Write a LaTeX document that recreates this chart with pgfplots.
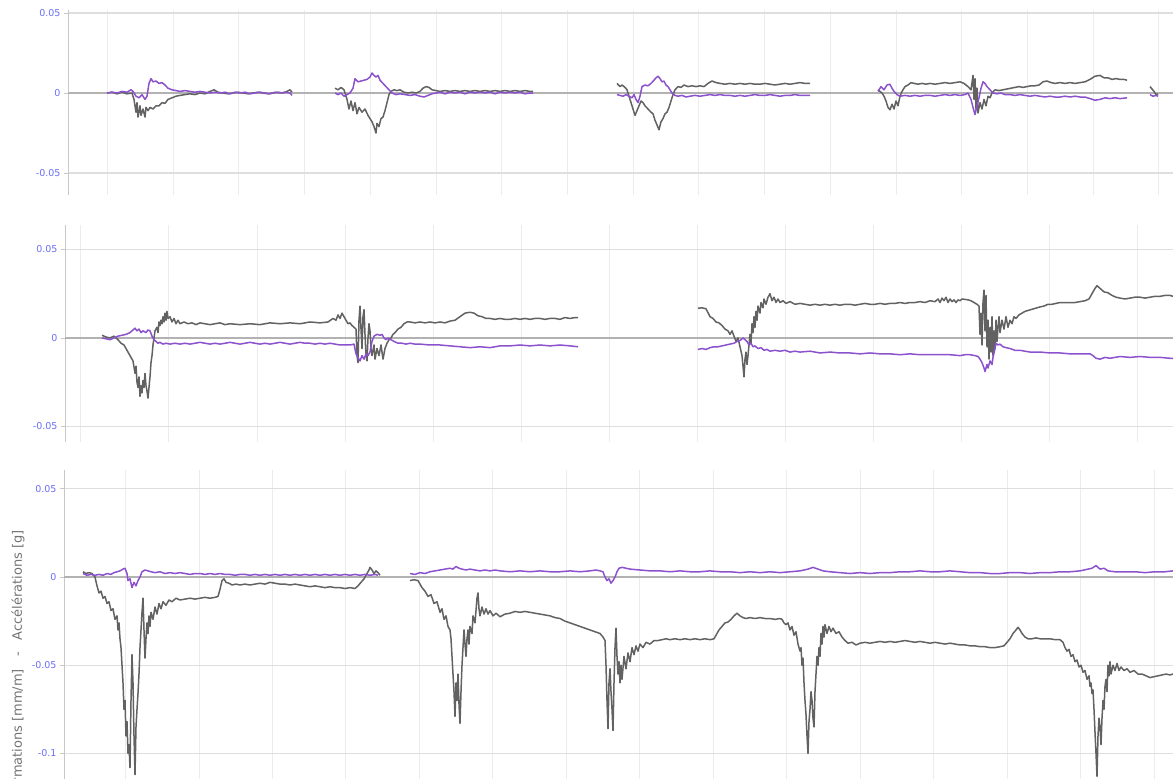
\documentclass[border=0pt]{standalone}
\usepackage{pgfplots}
\pgfplotsset{compat=1.18}
\usepackage{fontspec}
\setmainfont{DejaVu Sans}
\definecolor{tickblue}{RGB}{105,110,245}
\definecolor{sgray}{RGB}{98,98,98}
\definecolor{spurple}{RGB}{140,82,205}
\definecolor{zline}{RGB}{178,178,178}
\definecolor{hgrid}{RGB}{222,222,222}
\definecolor{vgrid}{RGB}{236,236,236}
\definecolor{axline}{RGB}{200,200,200}
\definecolor{ylabgray}{RGB}{115,115,115}
\pgfplotsset{
 panel/.style={
  scale only axis,
  axis lines*=left,
  x axis line style={draw=none},
  y axis line style={draw=axline, line width=1pt},
  xtick style={draw=none},
  xticklabels={},
  ytick style={draw=axline, line width=0.8pt},
  tick align=outside,
  major tick length=4pt,
  scaled y ticks=false,
  scaled x ticks=false,
  grid=major,
  x grid style={vgrid, line width=0.8pt},
  y grid style={hgrid, line width=1.2pt},
  yticklabel style={font=\fontsize{9.5}{10}\selectfont, text=tickblue},
  xmax=1173,
  clip=true,
  every axis plot/.append style={line width=1.5pt, line join=round},
 },
}
\begin{document}
\begin{tikzpicture}
\useasboundingbox (0,0) rectangle (1173pt,779pt);
% ---------------- Panel 1 ----------------
\begin{axis}[panel, at={(68pt,584pt)}, anchor=south west, width=1105pt, height=185pt,
  xmin=68, ymin=-0.06375, ymax=0.0519,
  xtick={107,173,238,304,370,436,501,567,633,698,764,830,896,961,1027,1093,1158},
  ytick={-0.05,0,0.05}, yticklabels={-0.05,0,0.05}]
\addplot[zline, line width=1.4pt, forget plot] coordinates {(60,0) (1180,0)};
% gray A
\addplot[sgray] table[row sep=\\]{x y\\
107 0\\ 112 0.0005\\ 117 -0.0005\\ 122 0.0005\\ 127 -0.0005\\ 132 0\\ 134 -0.004\\ 136 -0.012\\ 137 -0.006\\ 138 -0.015\\ 140 -0.008\\ 141 -0.014\\ 143 -0.010\\ 145 -0.015\\ 146 -0.009\\ 148 -0.011\\ 150 -0.009\\ 153 -0.010\\ 156 -0.008\\ 159 -0.008\\ 162 -0.006\\ 165 -0.0065\\ 168 -0.004\\ 172 -0.003\\ 176 -0.002\\ 180 -0.0015\\ 185 -0.001\\ 190 -0.0005\\ 195 -0.001\\ 200 0\\ 205 -0.0005\\ 210 0.001\\ 214 0.002\\ 218 0.0005\\ 223 0\\ 228 -0.0005\\ 233 0\\ 238 0.0005\\ 243 0\\ 248 -0.0005\\ 253 0\\ 258 0.0005\\ 263 0\\ 268 -0.0005\\ 273 0\\ 278 0.0005\\ 283 0\\ 287 0.001\\ 290 0.002\\ 292 0.0005\\
};
\addplot[spurple] table[row sep=\\]{x y\\
107 0\\ 112 0.0005\\ 117 0\\ 122 0.001\\ 127 0.0005\\ 131 0.002\\ 133 0.001\\ 136 -0.002\\ 139 -0.003\\ 142 -0.001\\ 145 -0.004\\ 147 -0.002\\ 149 0.006\\ 151 0.009\\ 153 0.007\\ 156 0.0075\\ 159 0.006\\ 162 0.0065\\ 165 0.005\\ 168 0.003\\ 172 0.002\\ 176 0.0015\\ 180 0.001\\ 185 0.0015\\ 190 0.001\\ 195 0.0005\\ 200 0.001\\ 205 0.0005\\ 210 0\\ 215 0.0005\\ 220 0\\ 225 0.0005\\ 230 -0.0005\\ 235 0.0005\\ 240 0\\ 245 0.0005\\ 250 -0.0005\\ 255 0\\ 260 0.0005\\ 265 0\\ 270 -0.0005\\ 275 0.0005\\ 280 0\\ 285 0.0005\\ 290 0\\ 292 -0.0015\\
};
% gray B
\addplot[sgray] table[row sep=\\]{x y\\
335 0.003\\ 338 0.002\\ 341 0.0035\\ 344 0.002\\ 347 -0.004\\ 349 -0.010\\ 351 -0.005\\ 353 -0.011\\ 355 -0.006\\ 357 -0.013\\ 359 -0.009\\ 362 -0.012\\ 365 -0.010\\ 368 -0.014\\ 370 -0.016\\ 372 -0.018\\ 374 -0.021\\ 376 -0.025\\ 377 -0.019\\ 379 -0.021\\ 381 -0.016\\ 383 -0.015\\ 385 -0.011\\ 387 -0.006\\ 389 -0.001\\ 391 0.001\\ 394 0.002\\ 397 0.0015\\ 400 0.002\\ 404 0.0005\\ 408 0\\ 412 0.0005\\ 416 0\\ 420 0.001\\ 423 0.003\\ 426 0.004\\ 429 0.0035\\ 432 0.002\\ 436 0.0015\\ 440 0.001\\ 445 0.0015\\ 450 0.001\\ 455 0.0015\\ 460 0.001\\ 465 0.0015\\ 470 0.001\\ 475 0.0015\\ 480 0.001\\ 485 0.0015\\ 490 0.001\\ 495 0.0015\\ 500 0.001\\ 505 0.0015\\ 510 0.001\\ 515 0.0015\\ 520 0.001\\ 525 0.0015\\ 530 0.001\\ 533 0.001\\
};
\addplot[spurple] table[row sep=\\]{x y\\
335 0\\ 338 -0.001\\ 341 0\\ 344 -0.002\\ 347 -0.001\\ 350 0\\ 353 0.003\\ 355 0.009\\ 358 0.007\\ 361 0.0075\\ 364 0.008\\ 367 0.0085\\ 370 0.010\\ 372 0.0125\\ 374 0.011\\ 376 0.010\\ 378 0.011\\ 380 0.008\\ 383 0.006\\ 386 0.004\\ 389 0.002\\ 392 0\\ 396 -0.001\\ 400 -0.0005\\ 405 -0.001\\ 410 -0.0015\\ 415 -0.001\\ 420 -0.002\\ 424 -0.0025\\ 428 -0.0015\\ 432 -0.0005\\ 436 0\\ 440 0.0005\\ 445 -0.0005\\ 450 0.0005\\ 455 0\\ 460 0.0005\\ 465 -0.0005\\ 470 0.0005\\ 475 0\\ 480 0.0005\\ 485 0\\ 490 0.0005\\ 495 -0.0005\\ 500 0.0005\\ 505 0\\ 510 0.0005\\ 515 0\\ 520 0.0005\\ 525 -0.0005\\ 530 0\\ 533 0\\
};
% gray C
\addplot[sgray] table[row sep=\\]{x y\\
617 0.006\\ 620 0.004\\ 622 0.005\\ 625 0.0035\\ 627 0.002\\ 629 -0.002\\ 631 -0.006\\ 633 -0.010\\ 635 -0.014\\ 637 -0.011\\ 639 -0.008\\ 641 -0.005\\ 643 -0.006\\ 645 -0.008\\ 648 -0.010\\ 651 -0.012\\ 653 -0.013\\ 655 -0.017\\ 657 -0.020\\ 659 -0.023\\ 661 -0.018\\ 663 -0.016\\ 665 -0.013\\ 667 -0.012\\ 669 -0.009\\ 671 -0.005\\ 673 -0.001\\ 675 0.002\\ 678 0.004\\ 681 0.0035\\ 684 0.005\\ 688 0.004\\ 692 0.0045\\ 696 0.004\\ 700 0.0045\\ 704 0.004\\ 708 0.006\\ 712 0.0075\\ 716 0.0065\\ 720 0.006\\ 725 0.0055\\ 730 0.006\\ 735 0.0055\\ 740 0.006\\ 745 0.0055\\ 750 0.006\\ 755 0.0055\\ 760 0.0055\\ 765 0.006\\ 770 0.0055\\ 775 0.005\\ 780 0.0055\\ 785 0.006\\ 790 0.0055\\ 795 0.006\\ 800 0.0065\\ 805 0.006\\ 810 0.006\\
};
\addplot[spurple] table[row sep=\\]{x y\\
617 -0.001\\ 620 -0.0015\\ 623 -0.002\\ 626 -0.001\\ 629 -0.002\\ 632 -0.003\\ 634 -0.001\\ 636 -0.004\\ 638 -0.006\\ 640 -0.002\\ 642 0.004\\ 645 0.005\\ 648 0.0045\\ 651 0.006\\ 654 0.008\\ 656 0.0095\\ 658 0.0105\\ 660 0.009\\ 662 0.007\\ 664 0.0075\\ 666 0.005\\ 668 0.004\\ 670 0.002\\ 672 0\\ 675 -0.0015\\ 678 -0.002\\ 682 -0.0015\\ 686 -0.0025\\ 690 -0.002\\ 695 -0.0015\\ 700 -0.002\\ 705 -0.0015\\ 710 -0.001\\ 715 -0.0015\\ 720 -0.001\\ 725 -0.0015\\ 730 -0.0015\\ 735 -0.002\\ 740 -0.0015\\ 745 -0.002\\ 750 -0.0015\\ 755 -0.001\\ 760 -0.0015\\ 765 -0.0015\\ 770 -0.001\\ 775 -0.0015\\ 780 -0.002\\ 785 -0.0015\\ 790 -0.0015\\ 795 -0.001\\ 800 -0.0015\\ 805 -0.0015\\ 810 -0.0015\\
};
% gray D
\addplot[sgray] table[row sep=\\]{x y\\
878 0.002\\ 880 0.001\\ 882 0\\ 884 -0.002\\ 886 -0.005\\ 888 -0.009\\ 890 -0.0105\\ 892 -0.007\\ 894 -0.010\\ 896 -0.005\\ 898 -0.008\\ 900 -0.002\\ 902 0.001\\ 905 0.004\\ 908 0.005\\ 911 0.0065\\ 914 0.006\\ 918 0.0055\\ 922 0.006\\ 926 0.0055\\ 930 0.006\\ 935 0.0055\\ 940 0.006\\ 945 0.0065\\ 950 0.006\\ 955 0.0065\\ 960 0.007\\ 964 0.006\\ 968 0.004\\ 971 0.002\\ 973 0.011\\ 974 -0.004\\ 975 0.009\\ 976 -0.010\\ 977 0.003\\ 978 -0.0125\\ 980 -0.006\\ 982 -0.010\\ 984 -0.004\\ 986 -0.008\\ 988 -0.002\\ 990 -0.003\\ 992 0\\ 995 0.002\\ 999 0.0015\\ 1003 0.002\\ 1007 0.0025\\ 1011 0.003\\ 1015 0.0035\\ 1019 0.004\\ 1023 0.0035\\ 1027 0.004\\ 1031 0.0045\\ 1035 0.0045\\ 1039 0.005\\ 1043 0.007\\ 1047 0.0075\\ 1051 0.0065\\ 1055 0.006\\ 1060 0.0065\\ 1065 0.006\\ 1070 0.0065\\ 1075 0.006\\ 1080 0.0065\\ 1085 0.007\\ 1090 0.0085\\ 1095 0.0105\\ 1100 0.011\\ 1104 0.0095\\ 1108 0.0095\\ 1112 0.0085\\ 1116 0.009\\ 1120 0.0085\\ 1124 0.0085\\ 1127 0.008\\
};
\addplot[spurple] table[row sep=\\]{x y\\
878 0.001\\ 881 0.004\\ 884 0.002\\ 887 0.005\\ 890 0.0055\\ 892 0.003\\ 894 0.001\\ 897 -0.001\\ 900 -0.002\\ 905 -0.0015\\ 910 -0.002\\ 915 -0.0015\\ 920 -0.002\\ 925 -0.0015\\ 930 -0.0015\\ 935 -0.002\\ 940 -0.0015\\ 945 -0.001\\ 950 -0.0015\\ 955 -0.001\\ 960 -0.0015\\ 965 -0.001\\ 968 0\\ 971 -0.004\\ 973 -0.009\\ 975 -0.0135\\ 977 -0.008\\ 979 -0.003\\ 981 0.003\\ 983 0.007\\ 985 0.006\\ 987 0.004\\ 990 0.002\\ 993 0\\ 997 -0.0005\\ 1001 0\\ 1005 -0.001\\ 1010 -0.001\\ 1015 -0.0015\\ 1020 -0.001\\ 1025 -0.0015\\ 1030 -0.002\\ 1035 -0.0015\\ 1040 -0.002\\ 1045 -0.0025\\ 1050 -0.002\\ 1055 -0.0025\\ 1060 -0.0025\\ 1065 -0.002\\ 1070 -0.0025\\ 1075 -0.002\\ 1080 -0.0025\\ 1085 -0.0025\\ 1090 -0.0035\\ 1095 -0.0045\\ 1100 -0.004\\ 1105 -0.003\\ 1110 -0.0035\\ 1115 -0.003\\ 1120 -0.0035\\ 1127 -0.003\\
};
\addplot[sgray] table[row sep=\\]{x y\\
1150 0.004\\ 1152 0.0025\\ 1154 0.001\\ 1156 -0.001\\ 1158 -0.0005\\
};
\addplot[spurple] table[row sep=\\]{x y\\
1150 -0.001\\ 1153 -0.002\\ 1156 -0.0015\\ 1158 -0.002\\
};
\end{axis}
% ---------------- Panel 2 ----------------
\begin{axis}[panel, at={(65pt,337pt)}, anchor=south west, width=1108pt, height=217pt,
  xmin=65, ymin=-0.0588, ymax=0.0638,
  xtick={80,168,257,345,433,521,609,697,785,873,961,1049,1137},
  ytick={-0.05,0,0.05}, yticklabels={-0.05,0,0.05}]
\addplot[zline, line width=1.4pt, forget plot] coordinates {(60,0) (1180,0)};
\addplot[sgray] table[row sep=\\]{x y\\
102 0.0015\\ 106 0.0005\\ 110 0\\ 114 0.001\\ 118 -0.001\\ 121 -0.003\\ 124 -0.004\\ 127 -0.007\\ 129 -0.009\\ 131 -0.011\\ 133 -0.013\\ 135 -0.020\\ 136 -0.016\\ 137 -0.025\\ 138 -0.028\\ 139 -0.022\\ 140 -0.033\\ 141 -0.027\\ 142 -0.031\\ 143 -0.024\\ 144 -0.028\\ 145 -0.020\\ 146 -0.027\\ 147 -0.030\\ 148 -0.034\\ 149 -0.028\\ 150 -0.022\\ 151 -0.014\\ 152 -0.010\\ 153 -0.004\\ 154 0\\ 155 0.004\\ 157 0.006\\ 158 0.003\\ 159 0.009\\ 160 0.007\\ 161 0.010\\ 162 0.008\\ 163 0.012\\ 164 0.009\\ 165 0.014\\ 166 0.010\\ 167 0.015\\ 168 0.011\\ 170 0.012\\ 172 0.009\\ 174 0.011\\ 176 0.008\\ 178 0.010\\ 180 0.008\\ 184 0.009\\ 188 0.008\\ 192 0.0085\\ 196 0.0075\\ 200 0.0085\\ 205 0.008\\ 210 0.0075\\ 215 0.008\\ 220 0.0085\\ 225 0.0075\\ 230 0.008\\ 240 0.0075\\ 250 0.008\\ 260 0.0075\\ 270 0.0085\\ 280 0.008\\ 290 0.0085\\ 300 0.008\\ 310 0.009\\ 320 0.0085\\ 328 0.009\\ 333 0.011\\ 336 0.010\\ 338 0.013\\ 340 0.011\\ 342 0.014\\ 344 0.012\\ 346 0.010\\ 348 0.008\\ 350 0.0085\\ 352 0.007\\ 354 0.006\\ 356 0.005\\ 357 -0.010\\ 358 -0.014\\ 359 0.010\\ 360 0.018\\ 361 0.005\\ 362 -0.006\\ 363 0.012\\ 364 0.016\\ 365 0.002\\ 366 -0.010\\ 367 -0.013\\ 368 0\\ 369 0.008\\ 370 0.004\\ 371 -0.006\\ 372 -0.010\\ 374 -0.004\\ 375 -0.012\\ 377 -0.006\\ 379 -0.010\\ 381 -0.004\\ 383 -0.012\\ 385 -0.006\\ 387 -0.003\\ 389 -0.001\\ 391 0\\ 393 0.002\\ 395 0.003\\ 398 0.005\\ 401 0.006\\ 404 0.008\\ 407 0.009\\ 410 0.009\\ 415 0.0085\\ 420 0.009\\ 425 0.0085\\ 430 0.009\\ 435 0.0085\\ 440 0.009\\ 445 0.0085\\ 450 0.0095\\ 455 0.010\\ 460 0.012\\ 465 0.014\\ 470 0.0145\\ 474 0.014\\ 478 0.0125\\ 482 0.012\\ 486 0.011\\ 490 0.011\\ 495 0.0105\\ 500 0.011\\ 505 0.0105\\ 510 0.0105\\ 515 0.011\\ 520 0.0105\\ 525 0.011\\ 530 0.0105\\ 535 0.011\\ 540 0.011\\ 545 0.0105\\ 550 0.011\\ 555 0.011\\ 560 0.0105\\ 565 0.0115\\ 570 0.011\\ 575 0.0115\\ 578 0.0115\\
};
\addplot[spurple] table[row sep=\\]{x y\\
102 0\\ 106 -0.0005\\ 110 -0.001\\ 114 0\\ 118 0.001\\ 122 0.0015\\ 126 0.002\\ 130 0.003\\ 133 0.0045\\ 135 0.0055\\ 137 0.004\\ 139 0.005\\ 141 0.003\\ 143 0.004\\ 146 0.003\\ 148 0.0045\\ 150 0.004\\ 152 0.001\\ 154 -0.001\\ 156 -0.002\\ 158 -0.003\\ 160 -0.0025\\ 163 -0.0035\\ 166 -0.003\\ 170 -0.0035\\ 175 -0.003\\ 180 -0.0035\\ 185 -0.003\\ 190 -0.0035\\ 195 -0.003\\ 200 -0.0025\\ 205 -0.003\\ 210 -0.0035\\ 215 -0.003\\ 220 -0.0035\\ 225 -0.003\\ 230 -0.0025\\ 235 -0.003\\ 240 -0.0035\\ 245 -0.003\\ 250 -0.0025\\ 255 -0.003\\ 260 -0.0035\\ 265 -0.003\\ 270 -0.0035\\ 275 -0.003\\ 280 -0.0025\\ 285 -0.003\\ 290 -0.0035\\ 295 -0.003\\ 300 -0.0025\\ 305 -0.003\\ 310 -0.003\\ 315 -0.0035\\ 320 -0.003\\ 325 -0.0035\\ 330 -0.003\\ 335 -0.0035\\ 340 -0.004\\ 345 -0.004\\ 350 -0.004\\ 354 -0.0035\\ 356 -0.009\\ 358 -0.011\\ 360 -0.013\\ 362 -0.010\\ 364 -0.012\\ 366 -0.009\\ 368 -0.010\\ 370 -0.008\\ 372 -0.002\\ 374 0.001\\ 377 0.002\\ 380 0.0015\\ 382 0.002\\ 384 0\\ 386 -0.001\\ 388 0\\ 391 -0.001\\ 394 -0.002\\ 398 -0.003\\ 402 -0.003\\ 406 -0.0035\\ 410 -0.003\\ 415 -0.0035\\ 420 -0.0035\\ 430 -0.004\\ 440 -0.004\\ 450 -0.0045\\ 460 -0.005\\ 470 -0.0055\\ 480 -0.005\\ 490 -0.0055\\ 500 -0.0045\\ 510 -0.0045\\ 520 -0.004\\ 530 -0.0045\\ 540 -0.004\\ 550 -0.0045\\ 560 -0.004\\ 570 -0.0045\\ 578 -0.005\\
};
\addplot[sgray] table[row sep=\\]{x y\\
698 0.0168\\ 702 0.017\\ 706 0.0165\\ 710 0.012\\ 713 0.011\\ 716 0.009\\ 719 0.0085\\ 722 0.007\\ 725 0.005\\ 728 0.004\\ 730 0.002\\ 732 0.004\\ 734 0.001\\ 736 -0.002\\ 738 0\\ 740 -0.005\\ 742 -0.010\\ 743 -0.016\\ 744 -0.022\\ 745 -0.012\\ 746 -0.008\\ 747 -0.015\\ 748 -0.010\\ 749 -0.004\\ 750 0.002\\ 751 -0.003\\ 752 0.008\\ 753 0.003\\ 754 0.012\\ 755 0.006\\ 756 0.015\\ 757 0.010\\ 758 0.018\\ 760 0.014\\ 761 0.020\\ 763 0.017\\ 764 0.022\\ 766 0.019\\ 768 0.023\\ 770 0.025\\ 772 0.021\\ 774 0.023\\ 776 0.020\\ 778 0.022\\ 780 0.020\\ 783 0.021\\ 786 0.0195\\ 790 0.0205\\ 795 0.019\\ 800 0.0195\\ 805 0.019\\ 810 0.0185\\ 815 0.019\\ 820 0.0185\\ 825 0.019\\ 830 0.0185\\ 835 0.019\\ 840 0.0185\\ 845 0.019\\ 850 0.019\\ 855 0.0185\\ 860 0.019\\ 865 0.0195\\ 870 0.019\\ 875 0.019\\ 880 0.0195\\ 885 0.019\\ 890 0.0195\\ 895 0.0195\\ 900 0.020\\ 905 0.0195\\ 910 0.020\\ 915 0.020\\ 920 0.0205\\ 925 0.020\\ 930 0.021\\ 935 0.0205\\ 938 0.022\\ 940 0.020\\ 942 0.0225\\ 944 0.021\\ 946 0.023\\ 948 0.020\\ 950 0.022\\ 952 0.0205\\ 954 0.0215\\ 956 0.020\\ 958 0.0215\\ 960 0.021\\ 962 0.022\\ 968 0.0215\\ 971 0.021\\ 974 0.020\\ 977 0.019\\ 979 0.018\\ 980 0.002\\ 981 0.014\\ 982 -0.004\\ 983 0.020\\ 984 0.027\\ 985 0.004\\ 986 0.024\\ 987 -0.005\\ 988 0.010\\ 989 -0.012\\ 990 0.006\\ 991 -0.008\\ 992 0.012\\ 993 -0.010\\ 994 0.004\\ 995 -0.006\\ 996 0.010\\ 997 -0.002\\ 998 0.006\\ 999 0.012\\ 1000 0.003\\ 1002 0.010\\ 1004 0.005\\ 1006 0.012\\ 1008 0.006\\ 1010 0.010\\ 1012 0.008\\ 1014 0.012\\ 1016 0.011\\ 1019 0.013\\ 1022 0.014\\ 1025 0.015\\ 1028 0.0155\\ 1031 0.016\\ 1034 0.0165\\ 1037 0.017\\ 1040 0.0175\\ 1044 0.018\\ 1048 0.019\\ 1052 0.019\\ 1056 0.0195\\ 1060 0.020\\ 1065 0.020\\ 1070 0.020\\ 1075 0.020\\ 1080 0.0205\\ 1085 0.021\\ 1089 0.022\\ 1092 0.025\\ 1095 0.028\\ 1097 0.0295\\ 1100 0.028\\ 1104 0.026\\ 1108 0.0255\\ 1112 0.024\\ 1116 0.023\\ 1120 0.0225\\ 1125 0.022\\ 1130 0.0225\\ 1135 0.023\\ 1140 0.023\\ 1145 0.0225\\ 1150 0.023\\ 1155 0.0235\\ 1160 0.0235\\ 1165 0.024\\ 1170 0.024\\ 1173 0.0235\\
};
\addplot[spurple] table[row sep=\\]{x y\\
698 -0.0065\\ 702 -0.006\\ 706 -0.0065\\ 710 -0.0055\\ 714 -0.005\\ 718 -0.005\\ 722 -0.0045\\ 726 -0.004\\ 730 -0.0035\\ 734 -0.003\\ 737 -0.002\\ 740 -0.0015\\ 743 0\\ 745 -0.001\\ 747 -0.002\\ 749 -0.004\\ 751 -0.003\\ 753 -0.005\\ 755 -0.0045\\ 758 -0.006\\ 761 -0.0055\\ 764 -0.007\\ 767 -0.0065\\ 770 -0.0075\\ 775 -0.007\\ 780 -0.0075\\ 785 -0.007\\ 790 -0.008\\ 795 -0.0075\\ 800 -0.008\\ 810 -0.0075\\ 815 -0.008\\ 820 -0.0085\\ 830 -0.008\\ 840 -0.0085\\ 850 -0.0085\\ 860 -0.009\\ 870 -0.0085\\ 880 -0.009\\ 890 -0.009\\ 900 -0.0095\\ 910 -0.009\\ 920 -0.0095\\ 930 -0.0095\\ 940 -0.0095\\ 950 -0.0095\\ 960 -0.010\\ 965 -0.0095\\ 970 -0.0095\\ 975 -0.010\\ 978 -0.0105\\ 980 -0.012\\ 982 -0.014\\ 984 -0.017\\ 985 -0.019\\ 987 -0.015\\ 988 -0.017\\ 990 -0.013\\ 992 -0.015\\ 993 -0.011\\ 995 -0.006\\ 996 -0.003\\ 998 -0.004\\ 1000 -0.0035\\ 1003 -0.005\\ 1006 -0.0055\\ 1010 -0.006\\ 1015 -0.007\\ 1020 -0.007\\ 1025 -0.0075\\ 1030 -0.008\\ 1040 -0.008\\ 1050 -0.0085\\ 1060 -0.0085\\ 1070 -0.009\\ 1080 -0.009\\ 1090 -0.009\\ 1093 -0.010\\ 1096 -0.0115\\ 1100 -0.012\\ 1105 -0.011\\ 1110 -0.0115\\ 1115 -0.011\\ 1120 -0.0105\\ 1130 -0.011\\ 1140 -0.0105\\ 1150 -0.011\\ 1160 -0.011\\ 1170 -0.0115\\ 1173 -0.0115\\
};
\end{axis}
% ---------------- Panel 3 ----------------
\begin{axis}[panel, at={(64pt,0pt)}, anchor=south west, width=1109pt, height=309pt,
  xmin=64, ymin=-0.1145, ymax=0.0607,
  xtick={125,199,272,345,419,492,566,639,713,786,860,933,1007,1080,1154},
  ytick={-0.1,-0.05,0,0.05}, yticklabels={-0.1,-0.05,0,0.05}]
\addplot[zline, line width=1.4pt, forget plot] coordinates {(60,0) (1180,0)};
\addplot[sgray] table[row sep=\\]{x y\\
83 0.003\\ 86 0.002\\ 89 0.0025\\ 92 0.002\\ 95 0\\ 97 -0.005\\ 99 -0.009\\ 101 -0.008\\ 103 -0.012\\ 105 -0.011\\ 107 -0.015\\ 109 -0.014\\ 111 -0.019\\ 113 -0.018\\ 115 -0.024\\ 117 -0.022\\ 118 -0.030\\ 119 -0.026\\ 120 -0.035\\ 121 -0.040\\ 122 -0.050\\ 123 -0.060\\ 124 -0.075\\ 125 -0.070\\ 126 -0.090\\ 127 -0.082\\ 128 -0.100\\ 129 -0.095\\ 130 -0.108\\ 131 -0.070\\ 132 -0.044\\ 133 -0.060\\ 134 -0.090\\ 135 -0.112\\ 136 -0.085\\ 137 -0.075\\ 138 -0.066\\ 139 -0.055\\ 140 -0.040\\ 141 -0.030\\ 142 -0.020\\ 143 -0.012\\ 144 -0.030\\ 145 -0.046\\ 146 -0.035\\ 147 -0.026\\ 148 -0.032\\ 149 -0.022\\ 150 -0.028\\ 151 -0.020\\ 153 -0.024\\ 155 -0.017\\ 157 -0.021\\ 159 -0.015\\ 161 -0.018\\ 163 -0.014\\ 166 -0.016\\ 169 -0.013\\ 172 -0.014\\ 176 -0.012\\ 180 -0.013\\ 185 -0.0125\\ 190 -0.012\\ 195 -0.0125\\ 200 -0.012\\ 205 -0.0115\\ 210 -0.012\\ 215 -0.0115\\ 218 -0.011\\ 220 -0.007\\ 222 -0.002\\ 224 -0.001\\ 226 -0.003\\ 229 -0.0035\\ 232 -0.0045\\ 236 -0.004\\ 240 -0.0045\\ 245 -0.004\\ 250 -0.0045\\ 255 -0.004\\ 260 -0.0035\\ 265 -0.004\\ 270 -0.003\\ 275 -0.0035\\ 280 -0.004\\ 285 -0.004\\ 290 -0.0045\\ 295 -0.004\\ 300 -0.0045\\ 305 -0.005\\ 310 -0.0055\\ 315 -0.005\\ 320 -0.0055\\ 325 -0.006\\ 330 -0.0055\\ 335 -0.006\\ 340 -0.006\\ 345 -0.0065\\ 350 -0.006\\ 355 -0.0065\\ 358 -0.005\\ 361 -0.003\\ 364 -0.001\\ 367 0.002\\ 369 0.004\\ 370 0.0055\\ 372 0.004\\ 374 0.002\\ 376 0.0035\\ 378 0.0025\\ 380 0.001\\
};
\addplot[spurple] table[row sep=\\]{x y\\
83 0.002\\ 87 0.001\\ 91 0.0015\\ 95 0.001\\ 99 0.0015\\ 103 0.001\\ 107 0.002\\ 111 0.0015\\ 114 0.0025\\ 117 0.003\\ 120 0.0035\\ 123 0.0045\\ 125 0.005\\ 127 0.002\\ 128 -0.002\\ 130 -0.001\\ 132 -0.006\\ 134 -0.003\\ 136 -0.005\\ 138 -0.002\\ 140 0\\ 142 0.003\\ 145 0.004\\ 148 0.0035\\ 151 0.003\\ 155 0.0025\\ 160 0.003\\ 165 0.002\\ 170 0.0025\\ 175 0.002\\ 180 0.0025\\ 185 0.002\\ 190 0.0015\\ 195 0.002\\ 200 0.002\\ 205 0.0015\\ 210 0.002\\ 215 0.0015\\ 220 0.002\\ 225 0.0015\\ 230 0.0015\\ 235 0.001\\ 240 0.0015\\ 245 0.0015\\ 250 0.001\\ 255 0.0015\\ 260 0.001\\ 265 0.0015\\ 270 0.001\\ 275 0.0015\\ 280 0.001\\ 285 0.0015\\ 290 0.001\\ 295 0.0015\\ 300 0.001\\ 305 0.0015\\ 310 0.001\\ 315 0.0015\\ 320 0.001\\ 325 0.0015\\ 330 0.001\\ 335 0.0015\\ 340 0.001\\ 345 0.0015\\ 350 0.001\\ 355 0.0015\\ 360 0.001\\ 365 0.0015\\ 370 0.001\\ 375 0.0015\\ 378 0.001\\
};
\addplot[sgray] table[row sep=\\]{x y\\
410 -0.002\\ 414 -0.0015\\ 418 -0.002\\ 420 -0.004\\ 422 -0.006\\ 425 -0.008\\ 428 -0.011\\ 431 -0.010\\ 434 -0.015\\ 437 -0.014\\ 440 -0.020\\ 442 -0.018\\ 444 -0.024\\ 446 -0.022\\ 448 -0.028\\ 450 -0.030\\ 451 -0.035\\ 452 -0.045\\ 453 -0.055\\ 454 -0.065\\ 455 -0.079\\ 456 -0.060\\ 457 -0.070\\ 458 -0.055\\ 459 -0.072\\ 460 -0.083\\ 461 -0.065\\ 462 -0.050\\ 463 -0.040\\ 464 -0.030\\ 465 -0.038\\ 466 -0.045\\ 467 -0.035\\ 468 -0.030\\ 469 -0.038\\ 470 -0.028\\ 472 -0.032\\ 473 -0.022\\ 475 -0.026\\ 477 -0.012\\ 478 -0.009\\ 479 -0.018\\ 480 -0.022\\ 482 -0.017\\ 484 -0.021\\ 486 -0.018\\ 488 -0.021\\ 490 -0.019\\ 493 -0.022\\ 496 -0.0205\\ 500 -0.0225\\ 505 -0.021\\ 510 -0.0205\\ 515 -0.0195\\ 520 -0.020\\ 525 -0.0195\\ 530 -0.020\\ 535 -0.0205\\ 540 -0.021\\ 545 -0.0215\\ 550 -0.022\\ 555 -0.023\\ 560 -0.0235\\ 565 -0.025\\ 570 -0.026\\ 575 -0.027\\ 580 -0.028\\ 585 -0.029\\ 590 -0.030\\ 595 -0.031\\ 600 -0.032\\ 603 -0.034\\ 605 -0.036\\ 606 -0.050\\ 607 -0.070\\ 608 -0.086\\ 609 -0.060\\ 610 -0.052\\ 611 -0.065\\ 612 -0.075\\ 613 -0.087\\ 614 -0.060\\ 615 -0.040\\ 616 -0.029\\ 617 -0.045\\ 618 -0.055\\ 619 -0.048\\ 620 -0.060\\ 621 -0.050\\ 622 -0.058\\ 624 -0.045\\ 626 -0.052\\ 628 -0.043\\ 630 -0.048\\ 632 -0.040\\ 634 -0.044\\ 636 -0.039\\ 638 -0.042\\ 640 -0.038\\ 643 -0.040\\ 646 -0.037\\ 650 -0.038\\ 654 -0.036\\ 658 -0.036\\ 662 -0.0355\\ 666 -0.035\\ 670 -0.0355\\ 675 -0.035\\ 680 -0.0355\\ 685 -0.035\\ 690 -0.0355\\ 695 -0.035\\ 700 -0.0355\\ 705 -0.035\\ 710 -0.0355\\ 714 -0.035\\ 716 -0.033\\ 719 -0.030\\ 722 -0.028\\ 725 -0.026\\ 728 -0.0255\\ 731 -0.024\\ 734 -0.022\\ 737 -0.0205\\ 740 -0.022\\ 743 -0.023\\ 746 -0.0235\\ 750 -0.023\\ 755 -0.0235\\ 760 -0.023\\ 765 -0.0235\\ 770 -0.0235\\ 775 -0.024\\ 780 -0.0235\\ 782 -0.024\\ 784 -0.026\\ 786 -0.027\\ 788 -0.026\\ 790 -0.030\\ 792 -0.028\\ 794 -0.033\\ 796 -0.031\\ 798 -0.038\\ 800 -0.042\\ 801 -0.040\\ 802 -0.050\\ 803 -0.046\\ 804 -0.060\\ 805 -0.070\\ 806 -0.078\\ 807 -0.090\\ 808 -0.100\\ 809 -0.082\\ 810 -0.075\\ 811 -0.065\\ 812 -0.070\\ 813 -0.080\\ 814 -0.085\\ 815 -0.065\\ 816 -0.055\\ 817 -0.045\\ 818 -0.050\\ 819 -0.040\\ 820 -0.045\\ 821 -0.032\\ 822 -0.038\\ 823 -0.028\\ 824 -0.034\\ 825 -0.027\\ 827 -0.032\\ 829 -0.028\\ 831 -0.031\\ 833 -0.029\\ 836 -0.032\\ 839 -0.031\\ 842 -0.034\\ 845 -0.036\\ 848 -0.0375\\ 852 -0.037\\ 856 -0.0385\\ 860 -0.0375\\ 865 -0.037\\ 870 -0.0375\\ 875 -0.037\\ 880 -0.0365\\ 885 -0.037\\ 890 -0.0365\\ 895 -0.037\\ 900 -0.0365\\ 905 -0.036\\ 910 -0.0365\\ 915 -0.037\\ 920 -0.0365\\ 925 -0.037\\ 930 -0.0375\\ 935 -0.037\\ 940 -0.0375\\ 945 -0.038\\ 950 -0.0375\\ 955 -0.038\\ 960 -0.0385\\ 965 -0.0385\\ 970 -0.039\\ 975 -0.039\\ 980 -0.0395\\ 985 -0.0395\\ 990 -0.040\\ 995 -0.040\\ 1000 -0.0395\\ 1004 -0.039\\ 1007 -0.037\\ 1010 -0.035\\ 1013 -0.032\\ 1016 -0.030\\ 1018 -0.0285\\ 1020 -0.030\\ 1022 -0.032\\ 1025 -0.034\\ 1028 -0.035\\ 1032 -0.035\\ 1036 -0.0345\\ 1040 -0.035\\ 1045 -0.035\\ 1050 -0.035\\ 1055 -0.0355\\ 1060 -0.0355\\ 1063 -0.037\\ 1065 -0.040\\ 1067 -0.042\\ 1069 -0.041\\ 1071 -0.045\\ 1073 -0.044\\ 1075 -0.048\\ 1077 -0.047\\ 1079 -0.051\\ 1081 -0.050\\ 1083 -0.054\\ 1085 -0.053\\ 1087 -0.058\\ 1089 -0.056\\ 1090 -0.062\\ 1091 -0.060\\ 1092 -0.066\\ 1093 -0.064\\ 1094 -0.075\\ 1095 -0.088\\ 1096 -0.100\\ 1097 -0.113\\ 1098 -0.090\\ 1099 -0.080\\ 1100 -0.085\\ 1101 -0.095\\ 1102 -0.080\\ 1103 -0.070\\ 1104 -0.075\\ 1105 -0.062\\ 1106 -0.058\\ 1107 -0.065\\ 1108 -0.050\\ 1109 -0.056\\ 1110 -0.048\\ 1111 -0.055\\ 1113 -0.050\\ 1115 -0.053\\ 1117 -0.049\\ 1119 -0.053\\ 1121 -0.051\\ 1124 -0.053\\ 1127 -0.052\\ 1130 -0.054\\ 1134 -0.053\\ 1138 -0.055\\ 1142 -0.055\\ 1146 -0.056\\ 1150 -0.057\\ 1154 -0.0565\\ 1158 -0.056\\ 1162 -0.0555\\ 1166 -0.055\\ 1170 -0.0555\\ 1173 -0.055\\
};
\addplot[spurple] table[row sep=\\]{x y\\
410 0.002\\ 415 0.0015\\ 420 0.0025\\ 425 0.002\\ 430 0.003\\ 435 0.0035\\ 440 0.004\\ 445 0.0045\\ 450 0.005\\ 453 0.0045\\ 456 0.006\\ 459 0.005\\ 462 0.0045\\ 466 0.004\\ 470 0.0045\\ 475 0.004\\ 480 0.0035\\ 485 0.004\\ 490 0.0035\\ 495 0.004\\ 500 0.0035\\ 510 0.003\\ 520 0.0035\\ 530 0.003\\ 540 0.0035\\ 550 0.003\\ 560 0.003\\ 570 0.0035\\ 580 0.003\\ 590 0.0035\\ 596 0.004\\ 600 0.0035\\ 603 0.003\\ 605 0\\ 607 -0.002\\ 609 -0.001\\ 611 -0.0035\\ 613 -0.002\\ 615 0\\ 617 0.003\\ 619 0.005\\ 622 0.0055\\ 626 0.005\\ 630 0.0045\\ 640 0.004\\ 650 0.0035\\ 660 0.0035\\ 670 0.003\\ 680 0.0035\\ 690 0.003\\ 700 0.003\\ 710 0.0035\\ 720 0.003\\ 730 0.003\\ 740 0.0025\\ 750 0.003\\ 760 0.0025\\ 770 0.003\\ 780 0.0025\\ 790 0.003\\ 800 0.0035\\ 808 0.0045\\ 813 0.0055\\ 818 0.0045\\ 823 0.0035\\ 830 0.003\\ 840 0.0025\\ 850 0.002\\ 860 0.0025\\ 870 0.002\\ 880 0.0025\\ 890 0.0025\\ 900 0.003\\ 910 0.003\\ 920 0.0035\\ 930 0.003\\ 940 0.003\\ 950 0.0035\\ 960 0.003\\ 970 0.0025\\ 980 0.0025\\ 990 0.002\\ 1000 0.002\\ 1010 0.0025\\ 1020 0.0025\\ 1030 0.002\\ 1040 0.0025\\ 1050 0.0025\\ 1060 0.003\\ 1070 0.003\\ 1080 0.0035\\ 1088 0.0045\\ 1092 0.005\\ 1096 0.0065\\ 1100 0.0045\\ 1104 0.005\\ 1108 0.0035\\ 1115 0.003\\ 1125 0.003\\ 1135 0.003\\ 1145 0.0025\\ 1155 0.003\\ 1165 0.003\\ 1173 0.0035\\
};
\end{axis}
\node[rotate=90, anchor=east, text=ylabgray, font=\fontsize{13}{14}\selectfont, inner sep=0pt] at (18pt,249pt) {Déformations [mm/m]\hspace{12pt}-\hspace{12pt}Accélérations [g]};
\end{tikzpicture}
\end{document}
